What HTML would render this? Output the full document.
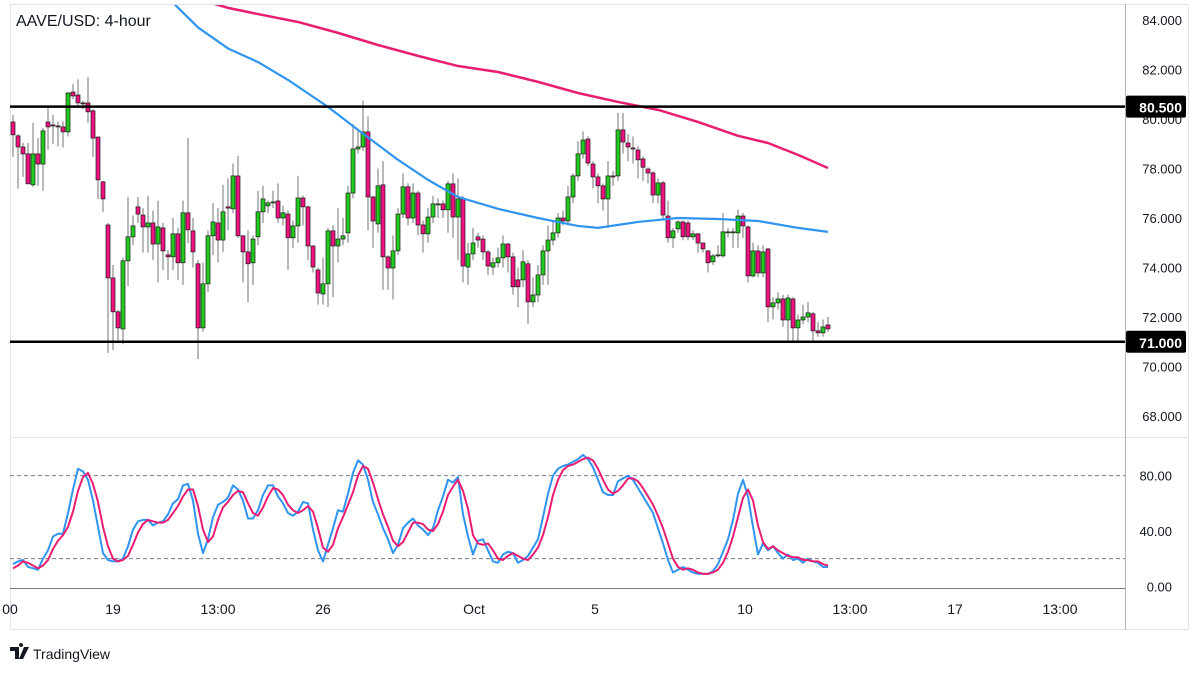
<!DOCTYPE html>
<html><head><meta charset="utf-8"><style>
body{margin:0;background:#fff;font-family:"Liberation Sans",sans-serif}
svg{display:block}
</style></head><body>
<svg id="c" width="1200" height="675" viewBox="0 0 1200 675" xmlns="http://www.w3.org/2000/svg">
<rect x="0" y="0" width="1200" height="675" fill="#fff"/>
<g fill="none" stroke="#e0e3eb" stroke-width="1">
<rect x="10.5" y="4.5" width="1178" height="625"/>
<line x1="10" y1="437.5" x2="1188" y2="437.5"/>
</g>
<line x1="1125.5" y1="4" x2="1125.5" y2="630" stroke="#b2b5be"/>
<line x1="10" y1="588.5" x2="1125" y2="588.5" stroke="#787b86"/>
<g id="mainG"></g>
<g id="oscG"></g>
<g id="axG"></g>
<text x="16" y="26" font-size="16" fill="#131722">AAVE/USD: 4-hour</text>
<g>
<path d="M10 647h9v12h-4v-8h-5z M21 647a2 2 0 1 1 0.1 0z M24 647h5l-6 12h-4z" fill="#131722"/>
<text x="33" y="659" font-size="14" fill="#131722">TradingView</text>
</g>
</svg>
<script>
const opens=[79.88,79.32,78.87,78.59,77.34,78.59,78.18,79.88,79.76,79.72,79.68,79.48,81.09,80.97,80.65,80.65,80.33,79.27,77.46,75.72,73.58,72.21,71.52,74.27,75.24,76.45,76.12,75.64,75.80,74.95,75.60,74.51,74.43,75.36,74.19,76.21,75.48,74.15,71.56,73.34,75.28,75.80,75.11,76.45,76.37,77.70,75.28,74.63,74.19,75.24,76.25,76.49,76.65,76.69,76.00,76.16,75.20,75.68,76.81,76.45,74.87,73.90,72.93,73.34,75.48,74.87,75.15,75.40,77.01,78.79,78.87,79.48,76.85,75.76,77.34,74.43,73.98,74.67,76.16,77.26,76.00,77.01,75.72,75.36,76.04,76.57,76.57,76.33,77.38,76.04,76.77,74.02,74.55,75.24,75.15,74.63,74.02,74.19,74.39,74.95,74.43,73.50,73.50,74.15,72.61,72.89,73.70,74.67,75.11,75.40,76.00,75.88,76.85,77.70,78.59,79.19,78.18,77.66,77.30,76.77,77.70,77.70,79.56,79.03,78.83,78.75,78.39,77.98,77.82,76.93,77.42,76.08,75.20,75.56,75.84,75.80,75.24,75.36,74.99,74.67,74.23,74.51,74.47,75.44,75.44,75.40,76.08,75.64,73.66,74.67,73.78,74.75,72.41,72.57,72.73,71.88,72.73,71.56,71.88,72.00,72.13,71.44,71.36,71.68];
const closes=[79.36,78.87,78.59,77.38,78.59,78.18,79.52,79.68,79.72,79.68,79.48,81.05,80.93,80.65,80.61,80.29,79.23,77.54,76.77,73.58,72.21,71.56,74.27,75.24,75.68,76.16,75.64,75.80,74.95,75.64,74.67,74.43,75.36,74.19,76.21,75.52,74.63,71.56,73.34,75.28,75.84,75.11,76.25,76.40,77.70,75.28,74.63,74.15,75.15,76.25,76.77,76.61,76.65,76.00,76.21,75.20,75.68,76.81,76.45,74.87,74.02,72.97,73.34,75.48,74.87,75.15,75.28,77.01,78.79,78.87,79.48,76.85,75.88,77.30,74.43,73.98,74.67,76.16,77.26,76.00,77.01,75.72,75.36,76.04,76.57,76.57,76.33,77.38,76.04,76.77,74.06,74.55,74.99,75.11,74.63,74.06,74.19,74.39,74.95,74.43,73.22,73.22,74.23,72.61,72.89,73.70,74.67,75.11,75.40,76.00,75.88,76.85,77.70,78.59,79.15,78.22,77.66,77.30,76.77,77.70,77.66,79.56,79.07,78.87,78.80,78.35,78.05,77.82,76.93,77.42,76.12,75.20,75.48,75.84,75.24,75.24,75.36,74.99,74.75,74.19,74.47,74.51,75.44,75.44,75.44,76.08,75.68,73.66,74.67,73.78,74.63,72.41,72.57,72.73,71.88,72.77,71.56,71.88,72.00,72.17,71.44,71.36,71.60,71.52];
const highs=[80.16,79.40,79.03,79.03,79.84,79.23,79.64,80.49,80.16,79.90,79.90,81.09,81.41,81.60,80.75,81.70,80.40,79.30,77.50,75.80,74.10,72.30,74.40,76.85,76.10,76.85,76.40,76.90,76.30,76.70,75.80,74.70,76.00,75.60,76.70,79.23,76.00,74.30,74.20,75.50,76.60,76.40,77.34,77.60,78.20,78.50,75.30,75.50,75.30,77.10,77.30,76.70,77.10,77.40,76.50,76.30,75.90,77.70,76.90,76.50,74.90,74.00,74.40,75.60,75.70,76.40,76.00,77.30,79.80,79.50,80.75,80.10,76.90,78.00,78.30,74.50,75.30,76.40,77.80,77.40,77.40,77.10,75.90,76.40,76.90,76.80,76.70,77.50,77.80,77.60,76.90,75.00,75.60,75.40,75.30,74.70,74.40,74.80,75.30,75.00,74.60,74.00,74.70,74.30,73.60,74.10,74.90,75.70,75.90,76.20,76.30,77.30,77.80,79.10,79.50,79.30,78.30,77.80,77.40,78.30,77.90,80.24,80.24,79.40,79.30,78.90,78.50,78.05,77.90,77.60,77.50,76.70,75.60,75.90,75.90,75.90,75.50,75.40,75.00,74.70,74.55,74.90,76.20,75.60,75.60,76.35,76.20,75.70,75.00,74.90,74.90,74.80,72.80,73.00,72.90,72.90,72.80,72.10,72.50,72.60,72.20,71.80,71.90,72.00];
const lows=[78.47,77.18,77.66,77.38,77.26,77.30,77.10,78.75,79.00,78.90,78.85,79.30,80.80,80.45,80.40,79.85,78.47,76.77,76.25,70.55,70.67,71.07,70.90,73.25,74.90,75.80,74.60,74.60,74.30,73.40,73.90,73.50,73.90,73.50,73.30,74.99,74.00,70.30,71.40,73.00,74.50,74.20,74.63,75.50,76.20,75.20,73.40,72.60,73.30,74.90,75.80,76.20,76.40,75.80,75.70,73.90,74.80,75.00,75.70,74.30,73.80,72.50,72.50,72.40,72.80,74.20,74.90,75.00,76.80,78.60,78.70,75.50,74.80,75.40,73.10,73.10,72.70,74.50,76.00,75.70,75.80,75.30,74.60,75.00,75.80,76.00,76.00,75.40,75.20,74.30,73.40,73.30,74.30,74.80,74.30,73.70,73.70,74.00,74.00,73.80,72.90,72.40,73.20,71.73,72.40,72.60,73.30,73.30,74.90,75.20,75.70,75.70,76.60,77.50,78.40,78.10,77.20,76.60,76.30,75.60,77.30,77.50,78.60,78.30,78.20,77.60,77.50,77.40,76.60,76.60,75.90,75.00,74.80,75.40,75.10,75.10,75.10,74.60,74.60,73.80,74.10,74.40,74.40,75.20,74.80,74.80,75.20,73.40,73.60,73.60,73.60,71.80,71.90,72.30,71.60,71.05,71.00,71.00,71.70,71.80,71.00,71.20,71.20,71.40];
const maSlowIdx=[37,39,43,49,57,65,73,81,89,97,105,113,121,129,137,145,151,157,163];
const maSlowVal=[85.0,84.73,84.49,84.24,83.92,83.48,82.99,82.55,82.14,81.90,81.50,81.05,80.69,80.37,79.88,79.32,79.03,78.55,78.02];
const maFastIdx=[31,37,43,49,55,63,69,77,83,89,97,105,113,117,125,133,141,149,157,163];
const maFastVal=[84.9,83.7,82.85,82.30,81.58,80.49,79.56,78.35,77.54,76.85,76.37,76.00,75.68,75.60,75.84,76.00,75.96,75.88,75.60,75.44];
const stochK=[16,18,19,14,13,12,20,26,36,38,38,53,70,85,83,77,62,43,24,19,18,18,20,29,41,47,48,48,44,46,47,52,60,63,73,74,62,38,24,34,50,59,61,64,73,70,62,49,49,55,66,73,73,65,60,53,51,54,61,60,41,26,18,30,42,55,54,67,82,91,88,77,61,52,42,34,24,30,42,46,49,44,41,37,42,55,65,77,75,79,52,36,23,33,34,26,18,17,23,25,24,17,19,22,28,34,50,67,80,85,87,88,90,92,95,92,86,77,68,66,66,76,78,80,77,71,65,59,53,42,31,19,10,12,14,12,10,9,9,9,11,16,25,34,48,67,77,65,43,23,31,26,29,24,20,23,19,20,17,20,18,17,14,14];
const stochD=[13,15,18,17,15,13,15,19,27,33,37,43,54,69,79,82,74,61,43,29,20,18,19,22,30,39,45,48,47,46,46,48,53,58,65,70,70,58,41,32,36,48,57,61,66,69,68,60,53,51,57,65,71,70,66,59,55,53,55,58,54,42,28,25,30,42,50,59,68,80,87,85,75,63,52,43,33,29,32,39,46,46,45,41,40,45,54,66,72,77,69,56,37,31,30,31,26,20,19,22,24,22,20,19,23,28,37,50,66,77,84,87,88,90,92,93,91,85,77,70,67,69,73,78,78,76,71,65,59,51,42,31,20,14,12,13,12,10,9,9,10,12,17,25,36,50,64,70,62,44,32,27,29,26,24,22,21,21,19,19,18,18,16,15];
const priceTicks=[84,82,80,78,76,74,72,70,68];
const levels=[80.5,71.0];
const oscTicks=[80,40,0];
const oscBands=[80,20];
const timeLabels=["00","19","13:00","26","Oct","5","10","13:00","17","13:00"];
const timeIdx=[-0.6,20,41,62,92.2,116.4,146.4,167.4,188.4,209.4];

const NS="http://www.w3.org/2000/svg";
const xOf=i=>13+5*i;
const yP=p=>20+(84-p)*24.75;
const yO=v=>586.3-1.383*v;
function mk(tag,attrs,parent){const e=document.createElementNS(NS,tag);for(const k in attrs)e.setAttribute(k,attrs[k]);parent.appendChild(e);return e;}
const mainG=document.getElementById('mainG'),oscG=document.getElementById('oscG'),axG=document.getElementById('axG');
const clip=mk('clipPath',{id:'mc'},mk('defs',{},mainG));mk('rect',{x:10,y:5,width:1115,height:432},clip);
const body=mk('g',{'clip-path':'url(#mc)'},mainG);

priceTicks.forEach(p=>{const t=mk('text',{x:1182,y:yP(p)+5,'font-size':13,fill:'#131722','text-anchor':'end'},axG);t.textContent=p.toFixed(3);

});
for(let i=0;i<closes.length;i++){
 const up=closes[i]>=opens[i];const x=xOf(i);
 const w=mk('line',{x1:x,x2:x,y1:yP(highs[i]),y2:yP(lows[i]),stroke:'#737373','stroke-width':1},body);
 
 
 const yt=yP(Math.max(opens[i],closes[i])),yb=yP(Math.min(opens[i],closes[i]));
 const r=mk('rect',{x:x-2,y:yt,width:4,height:Math.max(1,yb-yt),fill:up?'#22c91e':'#f0127f',stroke:'#1a1a1a','stroke-width':0.7},body);
 
 
}
function line(idx,vals,yf,color,parent,w){const d=idx.map((i,k)=>(k?'L':'M')+xOf(i)+' '+yf(vals[k])).join(' ');return mk('path',{d:d,fill:'none',stroke:color,'stroke-width':w,'stroke-linejoin':'round'},parent);}
const s1=line(maSlowIdx,maSlowVal,yP,'#e91e73',body,2.5);


const s2=line(maFastIdx,maFastVal,yP,'#2f95f0',body,2.2);


levels.forEach(p=>{const y=yP(p);
 const l=mk('line',{x1:10,x2:1125,y1:y,y2:y,stroke:'#000','stroke-width':2.5},mainG);
 
 
 const r=mk('rect',{x:1126,y:y-11,width:60,height:22,fill:'#000',rx:2},axG);
 
 
 const t=mk('text',{x:1182,y:y+6,'font-size':14,'font-weight':'bold',fill:'#fff','text-anchor':'end'},axG);t.textContent=p.toFixed(3);
 
 });
oscBands.forEach(v=>{const l=mk('line',{x1:10,x2:1125,y1:yO(v),y2:yO(v),stroke:'#787b86','stroke-dasharray':'4 3','stroke-width':1},oscG);
 
 });
oscTicks.forEach(v=>{const t=mk('text',{x:1172,y:yO(v)+5,'font-size':13,fill:'#131722','text-anchor':'end'},axG);t.textContent=v.toFixed(2);
 
 });
const allIdx=stochK.map((_,i)=>i);
const k=line(allIdx,stochK,yO,'#2f95f0',oscG,2);


const dd=line(allIdx,stochD,yO,'#e91e73',oscG,2);


timeLabels.forEach((s,j)=>{const t=mk('text',{x:xOf(timeIdx[j]),y:614,'font-size':14,fill:'#131722','text-anchor':'middle'},axG);t.textContent=s;
 
 });
</script>
</body></html>
